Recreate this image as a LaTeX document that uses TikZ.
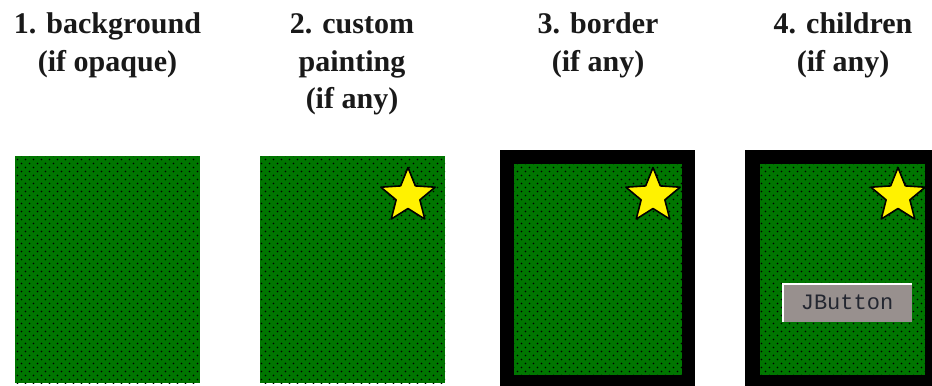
\documentclass[tikz,border=0pt]{standalone}
\usepackage{fontspec}
\setmainfont{Liberation Serif}
\newfontfamily\btnfont{Liberation Mono}
\usetikzlibrary{patterns}
\pgfdeclarepatternformonly{stipple}{\pgfpoint{-1bp}{-1bp}}{\pgfpoint{9bp}{9bp}}{\pgfpoint{8bp}{8bp}}{%
  \pgfpathcircle{\pgfpoint{1.5bp}{1.5bp}}{0.85bp}%
  \pgfpathcircle{\pgfpoint{5.5bp}{5.5bp}}{0.85bp}%
  \pgfusepath{fill}}
\definecolor{panelgreen}{RGB}{0,118,0}
\definecolor{btngray}{RGB}{152,144,142}
\definecolor{btntext}{RGB}{35,38,48}
\definecolor{titletext}{RGB}{25,25,25}
\newcommand\drawstarat[2]{%
  \begin{scope}[shift={(#1,#2)}]
    \draw[starsty] (-90:28.5) -- (-54:12.5) -- (-18:28.5) -- (18:12.5) -- (54:28.5)
      -- (90:12.5) -- (126:28.5) -- (162:12.5) -- (198:28.5) -- (234:12.5) -- cycle;
  \end{scope}}
\begin{document}
\begin{tikzpicture}[x=1bp,y=-1bp,
  title/.style={font=\fontsize{30bp}{37.5bp}\selectfont\bfseries, anchor=base, inner sep=0pt, text=titletext},
  panel/.style={anchor=north west, inner sep=0pt, outer sep=0pt, fill=panelgreen,
    postaction={pattern=stipple, pattern color=black}},
  frame/.style={anchor=north west, inner sep=0pt, outer sep=0pt, fill=black},
  starsty/.style={fill=yellow, draw=black, line width=1.6bp, line join=round},
  button/.style={fill=btngray, inner sep=0pt, minimum width=130bp, minimum height=39bp,
    font=\btnfont\fontsize{22bp}{22bp}\selectfont, text=btntext}]
\clip (0,0) rectangle (932,385);
\fill[white] (0,0) rectangle (932,385);

% titles
\node[title] (t1a) at (107.5,33) {1. background};
\node[title] (t1b) at (107.5,71) {(if opaque)};
\node[title] (t2a) at (352,33) {2. custom};
\node[title] (t2b) at (352,71) {painting};
\node[title] (t2c) at (352,108) {(if any)};
\node[title] (t3a) at (598,33) {3. border};
\node[title] (t3b) at (598,71) {(if any)};
\node[title] (t4a) at (843,33) {4. children};
\node[title] (t4b) at (843,71) {(if any)};

% panel 1: background
\node[panel, minimum width=185bp, minimum height=227bp] (p1) at (15,156) {};
% panel 2: custom painting
\node[panel, minimum width=185bp, minimum height=227bp] (p2) at (260,156) {};
\drawstarat{408}{196}
% panel 3: border
\node[frame, minimum width=195bp, minimum height=245bp] (f3) at (500,150) {};
\node[panel, minimum width=168bp, minimum height=211bp] (p3) at (514,164) {};
\drawstarat{653}{196}
% panel 4: children
\node[frame, minimum width=200bp, minimum height=245bp] (f4) at (745,150) {};
\node[panel, minimum width=165bp, minimum height=211bp] (p4) at (760,164) {};
\drawstarat{898}{196}
\node[button] (jb) at (847,302.5) {JButton};
\draw[white, line width=2.5bp] ([xshift=1.25bp]jb.south west) -- ([xshift=1.25bp,yshift=-1.25bp]jb.north west) -- ([yshift=-1.25bp]jb.north east);
\end{tikzpicture}
\end{document}
